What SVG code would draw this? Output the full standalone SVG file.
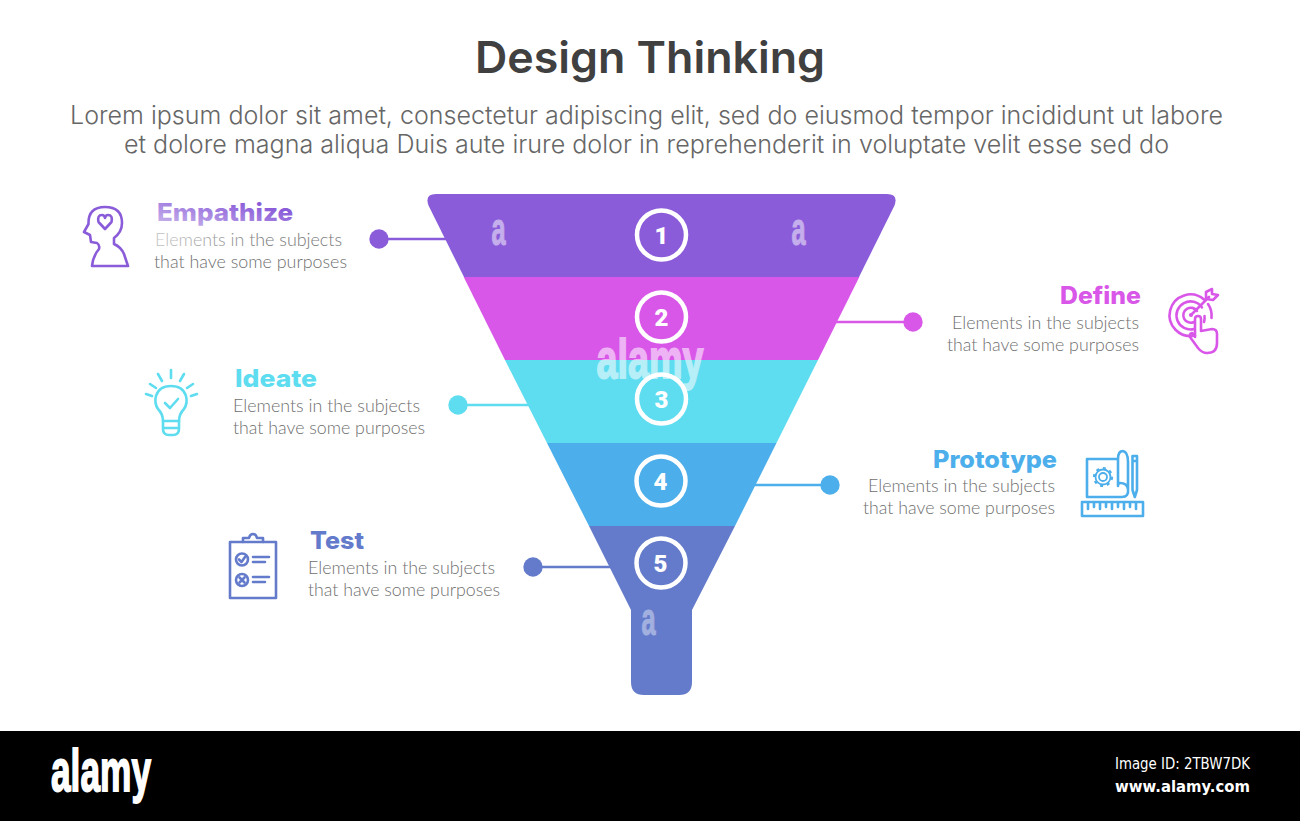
<svg xmlns="http://www.w3.org/2000/svg" width="1300" height="821" viewBox="0 0 1300 821">
<defs>
<linearGradient id="fadeHead" x1="0" y1="1" x2="1" y2="0"><stop offset=".1" stop-color="#c3aeea"/><stop offset=".75" stop-color="#8b5cd9"/></linearGradient>
<linearGradient id="fadeBody" x1="0" y1="0" x2="1" y2="0"><stop offset="0" stop-color="#c4c4c4"/><stop offset=".6" stop-color="#777"/></linearGradient>
</defs>
<style>
.title{font-family:"Inter","Open Sans","Liberation Sans",sans-serif;font-weight:600;font-size:44px;fill:#404040}
.intro{font-family:"Inter","Open Sans","Liberation Sans",sans-serif;font-weight:300;font-size:25px;fill:#666}
.head{font-family:"Inter","Open Sans","Liberation Sans",sans-serif;font-weight:800;font-size:24px}
.body{font-family:"Lato","Open Sans","Liberation Sans",sans-serif;font-weight:300;font-size:18px;fill:#6f6f6f}
.end{text-anchor:end}
.num{font-family:"Roboto","Liberation Sans",sans-serif;font-weight:900;font-size:24px;fill:#fff;text-anchor:middle}
.ring{fill:none;stroke:#fff;stroke-width:4.5}
.ic{fill:none;stroke-width:2.6;stroke-linejoin:round;stroke-linecap:round}
.wm{font-family:"Liberation Sans",sans-serif;font-weight:700;fill:#fff;stroke:#fff}
.foot{font-family:"DejaVu Sans",sans-serif;fill:#fff}
</style>
<rect width="1300" height="821" fill="#fff"/>
<text class="title" x="650" y="73" text-anchor="middle" textLength="350" lengthAdjust="spacingAndGlyphs">Design Thinking</text>
<text class="intro" x="70" y="124" textLength="1153" lengthAdjust="spacingAndGlyphs">Lorem ipsum dolor sit amet, consectetur adipiscing elit, sed do eiusmod tempor incididunt ut labore</text>
<text class="intro" x="124" y="153" textLength="1045" lengthAdjust="spacingAndGlyphs">et dolore magna aliqua Duis aute irure dolor in reprehenderit in voluptate velit esse sed do</text>

<g id="connectors" stroke-width="2.5">
<line x1="379" y1="239" x2="446" y2="239" stroke="#8b5cd9"/><circle cx="379" cy="239" r="9.700" fill="#8b5cd9"/>
<line x1="835" y1="322" x2="913" y2="322" stroke="#d957e8"/><circle cx="913" cy="322" r="9.700" fill="#d957e8"/>
<line x1="458" y1="405" x2="529" y2="405" stroke="#5edcf0"/><circle cx="458" cy="405" r="9.700" fill="#5edcf0"/>
<line x1="753" y1="485" x2="830" y2="485" stroke="#4caeea"/><circle cx="830" cy="485" r="9.700" fill="#4caeea"/>
<line x1="533" y1="567" x2="611" y2="567" stroke="#647bcb"/><circle cx="533" cy="567" r="9.700" fill="#647bcb"/>
</g>

<g id="funnel">
<path d="M464 277 L428.500 205.500 Q424.500 194 436 194 H887 Q898.500 194 894.500 205.500 L859 277 Z" fill="#8b5cd9"/>
<path d="M463.700 277 H859.300 L818 360 H505 Z" fill="#d957e8"/>
<path d="M505 360 H818 L776.500 443 H547 Z" fill="#5edcf0"/>
<path d="M547 443 H776.500 L735 526 H589 Z" fill="#4caeea"/>
<path d="M589 526 H735 L692 610 V682 Q692 695 679 695 H644 Q631 695 631 682 V610 Z" fill="#647bcb"/>
</g>

<g id="step-1"><circle class="ring" cx="661.500" cy="235" r="24.500"/><text class="num" x="661.500" y="243.500">1</text></g>
<g id="step-2"><circle class="ring" cx="661.500" cy="317" r="24.500"/><text class="num" x="661.500" y="325.500">2</text></g>
<g id="step-3"><circle class="ring" cx="661.500" cy="399" r="24.500"/><text class="num" x="661.500" y="407.500">3</text></g>
<g id="step-4"><circle class="ring" cx="661" cy="481" r="24.500"/><text class="num" x="660.500" y="489.500">4</text></g>
<g id="step-5"><circle class="ring" cx="661" cy="563" r="24.500"/><text class="num" x="660.500" y="571.500">5</text></g>

<g id="empathize">
<text class="head" x="157" y="221" fill="url(#fadeHead)" textLength="136" lengthAdjust="spacingAndGlyphs">Empathize</text>
<text class="body" x="155" y="246" style="fill:url(#fadeBody)" textLength="187" lengthAdjust="spacingAndGlyphs">Elements in the subjects</text>
<text class="body" x="154" y="268" textLength="193" lengthAdjust="spacingAndGlyphs">that have some purposes</text>
<g class="ic" stroke="#8b5cd9">
<path d="M92 266 Q93 256 99 249 Q100 245 97 243 L91 242 L90 235 L84 232 L88.500 224 Q88 207 105 207 Q122 207 122 223 Q122 232 114 238 V244 Q121 247 124 254 L128 266 Z"/>
<path d="M105 229 L98.500 222 Q97 215 102 215 Q104.500 215 105 218 Q105.500 215 108 215 Q113 215 111.500 222 Z"/>
</g></g>

<g id="define">
<text class="head end" x="1141" y="304" fill="#d957e8" textLength="81" lengthAdjust="spacingAndGlyphs">Define</text>
<text class="body end" x="1139" y="329" textLength="187" lengthAdjust="spacingAndGlyphs">Elements in the subjects</text>
<text class="body end" x="1139" y="351" textLength="192" lengthAdjust="spacingAndGlyphs">that have some purposes</text>
<g class="ic" stroke="#d957e8">
<path d="M1195 335.500 A20.800 20.800 0 1 1 1204 299.500 M1208 304 A20.800 20.800 0 0 1 1211.500 318"/>
<path d="M1194 329 A14 14 0 1 1 1202 307.500 M1204.500 316 A14 14 0 0 1 1204 322"/>
<path d="M1194 322 A7.500 7.500 0 1 1 1197 311"/>
<circle cx="1191" cy="315" r=".8"/>
<path d="M1191 315 L1209 297 M1206 292 L1206 299 L1213 300 L1218 295 L1212 294 L1212 289 Z"/>
<path d="M1195 337 V319 Q1195 316 1198 316 Q1201 316 1201 319 V331 L1212 329 Q1217 329 1217 334 V343 Q1217 353 1207 353 Q1202 353 1198 348 L1190 337 Q1189 334 1192 333 L1195 336"/>
</g></g>

<g id="ideate">
<text class="head" x="235" y="387" fill="#5edcf0" textLength="82" lengthAdjust="spacingAndGlyphs">Ideate</text>
<text class="body" x="233" y="412" textLength="187" lengthAdjust="spacingAndGlyphs">Elements in the subjects</text>
<text class="body" x="233" y="434" textLength="192" lengthAdjust="spacingAndGlyphs">that have some purposes</text>
<g class="ic" stroke="#5edcf0">
<path d="M163 421 Q163 414 158 409 Q154 403 156 396 Q159 386 171 386 Q183 386 186 396 Q188 403 184 409 Q179 414 179 421 Z"/>
<path d="M163 421 V429 Q163 435 169 435 H173 Q179 435 179 429 V421 M163 428 H179"/>
<path d="M165 403 L170 408 L178 399"/>
<path d="M171 370 V378 M158 374 L162 381 M184 374 L180 381 M150 384 L156 388 M193 384 L187 388 M146 394 L152 396 M197 394 L191 396"/>
</g></g>

<g id="prototype">
<text class="head end" x="1057" y="468" fill="#4caeea" textLength="124" lengthAdjust="spacingAndGlyphs">Prototype</text>
<text class="body end" x="1055" y="492" textLength="187" lengthAdjust="spacingAndGlyphs">Elements in the subjects</text>
<text class="body end" x="1055" y="514" textLength="192" lengthAdjust="spacingAndGlyphs">that have some purposes</text>
<g class="ic" stroke="#4caeea">
<path d="M1118 459 H1087 V497 H1122 Q1129 497 1128 489 Q1127 483 1120 483 Q1118 483 1118 486 V459 Q1118 451 1123 451 Q1128 452 1128 462 V489"/>
<circle cx="1103" cy="477" r="4" stroke-width="1.800"/>
<circle cx="1103" cy="477" r="7.500" stroke-width="1.800"/>
<circle cx="1103" cy="477" r="9" stroke-dasharray="3 4" stroke-width="2.200" stroke-linecap="butt"/>
<path d="M1132.500 456 H1137 V490 L1134.800 497 L1132.500 490 Z M1132.500 461 H1137"/>
<path d="M1082 502 H1143 V516 H1082 Z M1088 503 V509 M1094 503 V507 M1100 503 V509 M1106 503 V507 M1112 503 V509 M1118 503 V507 M1124 503 V509 M1130 503 V507 M1136 503 V509"/>
</g></g>

<g id="test">
<text class="head" x="310" y="549" fill="#647bcb" textLength="54" lengthAdjust="spacingAndGlyphs">Test</text>
<text class="body" x="308" y="574" textLength="187" lengthAdjust="spacingAndGlyphs">Elements in the subjects</text>
<text class="body" x="308" y="596" textLength="192" lengthAdjust="spacingAndGlyphs">that have some purposes</text>
<g class="ic" stroke="#647bcb">
<path d="M243 542 H230 V598 H276 V542 H263"/>
<path d="M243 542 V538 H249 Q250 534 253 534 Q256 534 257 538 H263 V542 Z"/>
<circle cx="242" cy="559.500" r="6"/><circle cx="242" cy="580" r="6"/>
<path d="M239 559.500 L241.500 562 L245 557 M239.500 577.500 L244.500 582.500 M244.500 577.500 L239.500 582.500"/>
<path d="M253 557 H269 M253 562 H265 M253 577 H269 M253 582 H265"/>
</g></g>

<g id="watermark" class="wm">
<text x="0" y="0" font-size="46" text-anchor="middle" stroke-width="1" opacity=".5" transform="translate(498.500 244.500) scale(.55 1)">a</text>
<text x="0" y="0" font-size="46" text-anchor="middle" stroke-width="1" opacity=".5" transform="translate(798.500 244.500) scale(.55 1)">a</text>
<text x="0" y="0" font-size="46" text-anchor="middle" stroke-width="1" opacity=".4" transform="translate(648.500 634.500) scale(.55 1)">a</text>
<text x="650" y="378" font-size="56" text-anchor="middle" stroke-width="1.800" opacity=".55" textLength="107" lengthAdjust="spacingAndGlyphs">alamy</text>
</g>

<g id="footer">
<rect x="0" y="731" width="1300" height="90" fill="#000"/>
<text x="51" y="791" font-family="Liberation Sans, sans-serif" font-weight="700" fill="#fff" stroke="#fff" stroke-width="1.800" font-size="60" textLength="100" lengthAdjust="spacingAndGlyphs">alamy</text>
<text class="foot" x="1115" y="769" font-size="15" textLength="135" lengthAdjust="spacingAndGlyphs">Image ID: 2TBW7DK</text>
<text class="foot" x="1115" y="792" font-size="16" font-weight="700" textLength="135" lengthAdjust="spacingAndGlyphs">www.alamy.com</text>
</g>
</svg>
